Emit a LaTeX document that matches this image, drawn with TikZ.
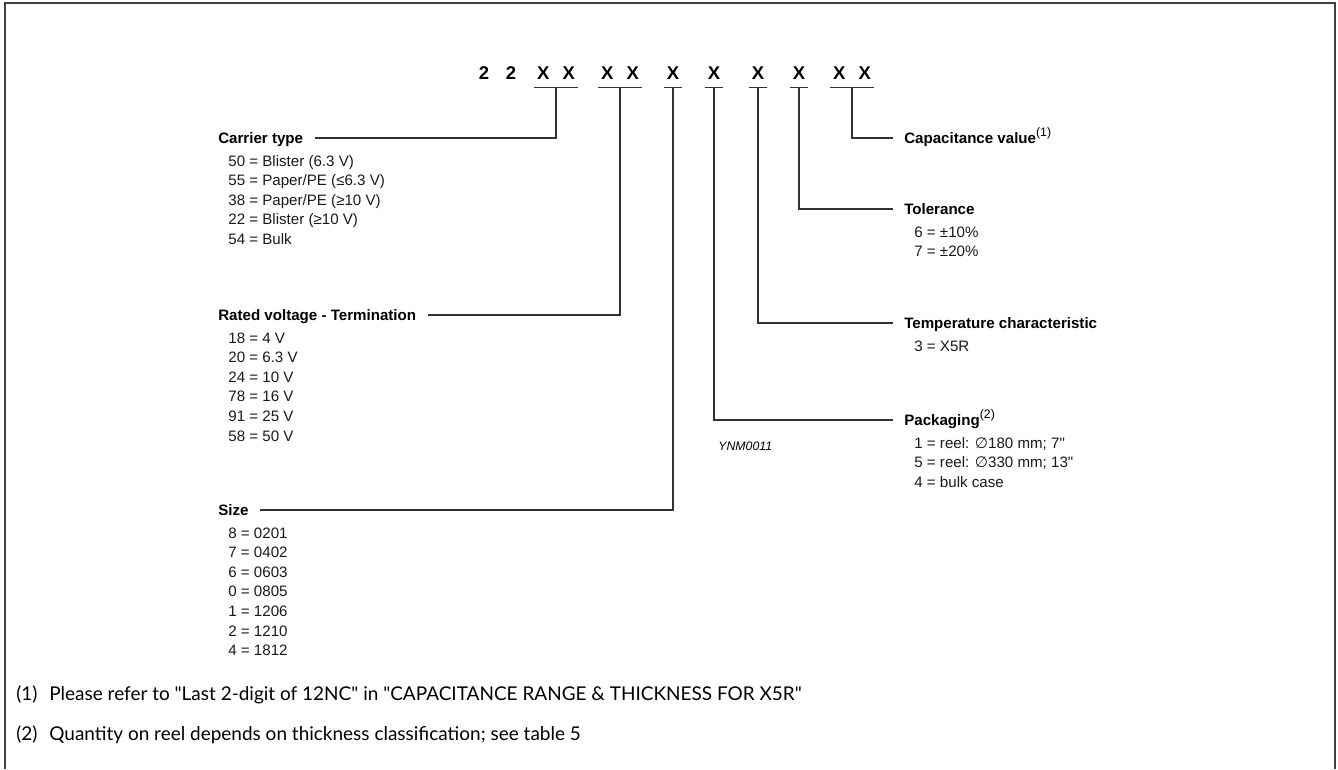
\documentclass[tikz,border=0pt]{standalone}
\usepackage{fontspec}
\setmainfont{Liberation Sans}
\newfontfamily\notefont{Lato}
\newfontfamily\symfont{DejaVu Sans}
\newcommand{\twox}{X\hspace{7.6pt}X}
\newcommand{\supnote}[1]{\textsuperscript{\mdseries\fontsize{7}{8}\selectfont(#1)}}

\begin{document}
\begin{tikzpicture}[x=0.02cm,y=-0.02cm]
	\tikzset{code/.style={font=\bfseries\fontsize{10.5}{12}\selectfont, anchor=base, inner xsep=1.3pt, inner ysep=4.4pt, text height=7.5pt, text depth=0pt},
		head/.style={font=\bfseries\fontsize{8.6}{11}\selectfont, anchor=west, inner xsep=6.5pt, inner ysep=0pt, text height=6.2pt, text depth=0pt},
		entry/.style={font=\fontsize{8.6}{11}\selectfont, anchor=base west, inner sep=0pt, text=black!90},
		note/.style={font=\notefont\fontsize{10.8}{12}\selectfont, anchor=west, inner sep=0pt},
		link/.style={draw=black!80, line width=0.6pt}}
	\useasboundingbox (0,0) rectangle (1338,769);
	\draw[black!75, line width=0.8pt] (5,769) -- (5,3) -- (1335,3) -- (1335,769);

	% type number
	\node[code] (d1) at (484,79) {2};
	\node[code] (d2) at (511,79) {2};
	\node[code] (g1) at (556,79) {\twox};
	\node[code] (g2) at (620,79) {\twox};
	\node[code] (g3) at (673,79) {X};
	\node[code] (g4) at (714,79) {X};
	\node[code] (g5) at (758,79) {X};
	\node[code] (g6) at (799,79) {X};
	\node[code] (g7) at (852,79) {\twox};
	\foreach \g in {g1,g2,g3,g4,g5,g6,g7}
		\draw[link] (\g.south west) -- (\g.south east);

	% headings
	\node[head] (carrier) at (206.5,138) {Carrier type};
	\node[head] (volt) at (206.5,315) {Rated voltage - Termination};
	\node[head] (size) at (206.5,510) {Size};
	\node[head] (capac) at (892.5,138) {Capacitance value\supnote{1}};
	\node[head] (toler) at (892.5,209) {Tolerance};
	\node[head] (temp) at (892.5,323) {Temperature characteristic};
	\node[head] (pack) at (892.5,420) {Packaging\supnote{2}};

	\draw[link] (g1.south) |- (carrier.east);
	\draw[link] (g2.south) |- (volt.east);
	\draw[link] (g3.south) |- (size.east);
	\draw[link] (g4.south) |- (pack.west);
	\draw[link] (g5.south) |- (temp.west);
	\draw[link] (g6.south) |- (toler.west);
	\draw[link] (g7.south) |- (capac.west);

	% code lists
	\foreach \t [count=\i] in {50 = Blister (6.3 V), 55 = Paper/PE (≤6.3 V), 38 = Paper/PE (≥10 V), 22 = Blister (≥10 V), 54 = Bulk}
		\node[entry] (ca\i) at (228,{146.4+19.6*\i}) {\t};
	\foreach \t [count=\i] in {18 = 4 V, 20 = 6.3 V, 24 = 10 V, 78 = 16 V, 91 = 25 V, 58 = 50 V}
		\node[entry] (vo\i) at (228,{323.4+19.6*\i}) {\t};
	\foreach \t [count=\i] in {8 = 0201, 7 = 0402, 6 = 0603, 0 = 0805, 1 = 1206, 2 = 1210, 4 = 1812}
		\node[entry] (si\i) at (228,{518.4+19.6*\i}) {\t};
	\foreach \t [count=\i] in {6 = ±10\%, 7 = ±20\%}
		\node[entry] (to\i) at (914,{217.4+19.6*\i}) {\t};
	\node[entry] (te1) at (914,351) {3 = X5R};
	\foreach \t [count=\i] in {1 = reel: {\symfont ∅}180 mm; 7\textquotedbl, 5 = reel: {\symfont ∅}330 mm; 13\textquotedbl, 4 = bulk case}
		\node[entry] (pa\i) at (914,{428.4+19.6*\i}) {\t};

	\node[font=\itshape\fontsize{7}{8}\selectfont, anchor=base west, inner sep=0pt] (ynm) at (718,450) {YNM0011};

	% notes
	\node[note] (fn1) at (16,695) {(1)\hspace{4pt} Please refer to "Last 2-digit of 12NC" in "CAPACITANCE RANGE \& THICKNESS FOR X5R"};
	\node[note] (fn2) at (16,735) {(2)\hspace{4pt} Quantity on reel depends on thickness classification; see table 5};
\end{tikzpicture}
\end{document}
